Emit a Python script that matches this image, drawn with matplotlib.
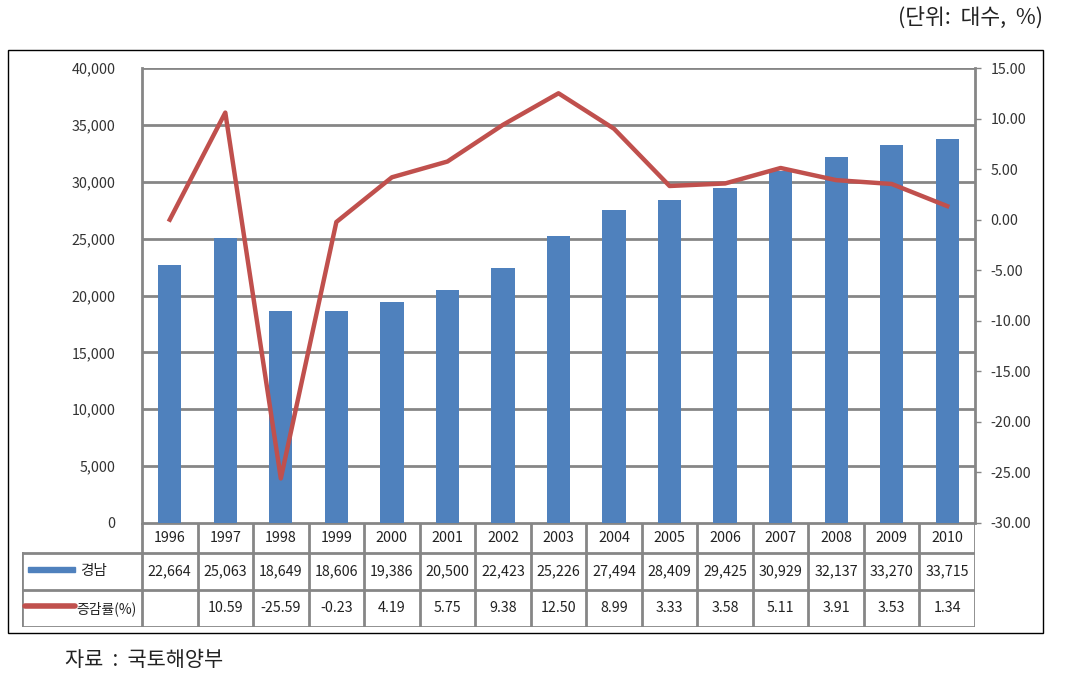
import matplotlib.pyplot as plt
import matplotlib.patches as mpatches
import numpy as np

plt.rcParams['font.family'] = ['Noto Sans CJK KR', 'DejaVu Sans']

years = ['1996', '1997', '1998', '1999', '2000', '2001', '2002', '2003',
         '2004', '2005', '2006', '2007', '2008', '2009', '2010']
gyeongnam = [22664, 25063, 18649, 18606, 19386, 20500, 22423, 25226,
             27494, 28409, 29425, 30929, 32137, 33270, 33715]
rate = [None, 10.59, -25.59, -0.23, 4.19, 5.75, 9.38, 12.50,
        8.99, 3.33, 3.58, 5.11, 3.91, 3.53, 1.34]

BLUE = '#4f81bd'
RED = '#c0504d'
GRAY = '#868686'
TXT = '#222222'

W, H = 1082, 694
fig = plt.figure(figsize=(W / 100, H / 100), dpi=100)

def px_box(x0, y0, x1, y1):
    # pixel box (top-left origin) -> figure fraction rect
    return [x0 / W, (H - y1) / H, (x1 - x0) / W, (y1 - y0) / H]

# outer frame
fig.patches.append(mpatches.Rectangle((8 / W, (H - 633) / H), (1043 - 8) / W, (633 - 50) / H,
                                      transform=fig.transFigure, fill=False,
                                      edgecolor='black', linewidth=1))

x = np.arange(len(years))
ax = fig.add_axes(px_box(142, 68, 975, 523))
ax.bar(x, gyeongnam, width=0.42, color=BLUE, zorder=2)
ax.set_xlim(-0.5, len(years) - 0.5)
ax.set_ylim(0, 40000)
ax.set_yticks(np.arange(0, 40001, 5000))
ax.set_yticklabels(['{:,}'.format(v) for v in range(0, 40001, 5000)])
ax.set_xticks([])
ax.grid(axis='y', color=GRAY, linewidth=2, zorder=0)
for s in ['top', 'bottom', 'right']:
    ax.spines[s].set_visible(False)
ax.spines['left'].set_color(GRAY)
ax.spines['left'].set_linewidth(2)
ax.tick_params(axis='y', length=0, pad=19, labelsize=10.3, colors='#333333')

ax2 = ax.twinx()
rate_plot = [0 if r is None else r for r in rate]
ax2.plot(x, rate_plot, color=RED, linewidth=3.2, solid_joinstyle='round', zorder=3)
ax2.set_ylim(-30, 15)
ax2.set_yticks(np.arange(-30, 15.1, 5))
ax2.set_yticklabels(['{:.2f}'.format(v) for v in np.arange(-30, 15.1, 5)])
for s in ['top', 'bottom', 'left']:
    ax2.spines[s].set_visible(False)
ax2.spines['right'].set_color(GRAY)
ax2.spines['right'].set_linewidth(2)
ax2.tick_params(axis='y', length=4, width=1, color=GRAY, pad=7, labelsize=10.3, labelcolor='#333333')

# data table below the plot
lab_w = (142 - 22) / ((975 - 142) / len(years))
tab = fig.add_axes(px_box(22, 523, 975, 627))
tab.set_xlim(-0.5 - lab_w, len(years) - 0.5)
tab.set_ylim(104, 0)
tab.axis('off')
rows_y = [0, 30, 67, 104]
lc = dict(color=GRAY, linewidth=2)
left = -0.5 - lab_w
right = len(years) - 0.5
tab.plot([-0.5, right], [rows_y[0]] * 2, **lc)
for yy in rows_y[1:]:
    tab.plot([left, right], [yy, yy], **lc)
tab.plot([left, left], [rows_y[1], rows_y[3]], **lc)
for i in range(len(years) + 1):
    tab.plot([i - 0.5, i - 0.5], [rows_y[0], rows_y[3]], **lc)

for i, yr in enumerate(years):
    tab.text(i, 15, yr, ha='center', va='center', fontsize=10.3, color=TXT)
    tab.text(i, 48.5, '{:,}'.format(gyeongnam[i]), ha='center', va='center',
             fontsize=10.3, color=TXT)
    if rate[i] is not None:
        tab.text(i, 85.5, '{:.2f}'.format(rate[i]), ha='center', va='center',
                 fontsize=10.3, color=TXT)

# legend keys in the label column
tab.add_patch(mpatches.Rectangle((left + 0.1, 44), 0.85, 5, color=BLUE))
tab.plot([left + 0.05, left + 0.95], [83, 83], color=RED, linewidth=4, solid_capstyle='round')
tab.text(left + 1.05, 48.5, '경남', ha='left', va='center', fontsize=10.5, color=TXT)
tab.text(left + 0.98, 85.5, '증감률(%)', ha='left', va='center', fontsize=10, color=TXT)

fig.text(1043 / W, 1 - 18 / H, '(단위:  대수,  %)', ha='right', va='center', fontsize=15.5, color=TXT)
fig.text(65 / W, 1 - 660 / H, '자료  :  국토해양부', ha='left', va='center', fontsize=15, color=TXT)

fig.savefig('out.png', dpi=100)
